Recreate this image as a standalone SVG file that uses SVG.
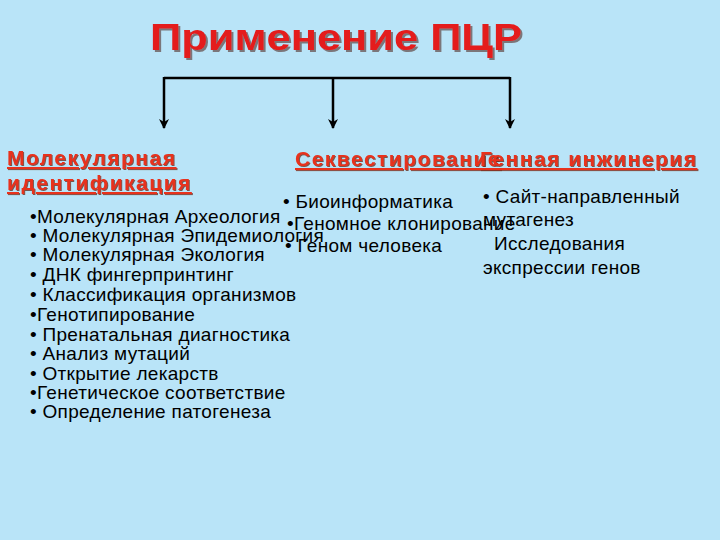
<svg xmlns="http://www.w3.org/2000/svg" width="720" height="540" viewBox="0 0 720 540">
<defs>
<style>
.title{font-family:"Liberation Sans",Arial,sans-serif;font-weight:bold;font-size:36px;fill:#E41A1A}
.head{font-family:"Liberation Sans",Arial,sans-serif;font-weight:bold;font-size:21px;letter-spacing:1.5px;fill:#E8301C;text-decoration:underline}
.body{font-family:"Liberation Sans",Arial,sans-serif;font-size:19px;letter-spacing:0.3px;fill:#000}
.conn{stroke:#000;stroke-width:2.5;fill:none}
</style>
<filter id="tsh" x="-5%" y="-20%" width="110%" height="150%">
<feDropShadow dx="2" dy="2" stdDeviation="0.6" flood-color="#6a5a5a" flood-opacity="0.8"/>
</filter>
<filter id="hsh" x="-5%" y="-20%" width="110%" height="150%">
<feDropShadow dx="1" dy="1" stdDeviation="0.4" flood-color="#6a3020" flood-opacity="0.8"/>
</filter>
<marker id="arr" viewBox="0 0 10 10" refX="9" refY="5" markerWidth="4" markerHeight="4" orient="auto" markerUnits="strokeWidth">
<path d="M0,0 L10,5 L0,10 L3,5 Z" fill="#000"/>
</marker>
</defs>
<rect width="720" height="540" fill="#B9E4F8"/>
<g id="title">
<text class="title" x="150" y="50" textLength="372" lengthAdjust="spacingAndGlyphs" filter="url(#tsh)">Применение ПЦР</text>
</g>
<g id="connectors">
<path class="conn" d="M164,78 H510"/>
<path class="conn" d="M164,77 V128" marker-end="url(#arr)"/>
<path class="conn" d="M333,78 V128" marker-end="url(#arr)"/>
<path class="conn" d="M510,77 V128" marker-end="url(#arr)"/>
</g>
<g id="node-molecular">
<text class="head" x="7" y="165" filter="url(#hsh)">Молекулярная</text>
<text class="head" x="7" y="190" filter="url(#hsh)">идентификация</text>
<text class="body" x="30" y="223">•Молекулярная Археология</text>
<text class="body" x="30" y="242">• Молекулярная Эпидемиология</text>
<text class="body" x="30" y="261">• Молекулярная Экология</text>
<text class="body" x="30" y="281">• ДНК фингерпринтинг</text>
<text class="body" x="30" y="301">• Классификация организмов</text>
<text class="body" x="30" y="321">•Генотипирование</text>
<text class="body" x="30" y="341">• Пренатальная диагностика</text>
<text class="body" x="30" y="360">• Анализ мутаций</text>
<text class="body" x="30" y="380">• Открытие лекарств</text>
<text class="body" x="30" y="399">•Генетическое соответствие</text>
<text class="body" x="30" y="418">• Определение патогенеза</text>
</g>
<g id="node-sequencing">
<text class="head" x="295" y="166" filter="url(#hsh)">Секвестирование</text>
<text class="body" x="283" y="208">• Биоинформатика</text>
<text class="body" x="287" y="230">•Геномное клонирование</text>
<text class="body" x="285" y="252">• Геном человека</text>
</g>
<g id="node-genetic">
<text class="head" x="480" y="166" filter="url(#hsh)">Генная инжинерия</text>
<text class="body" x="483" y="203">• Сайт-направленный</text>
<text class="body" x="483" y="226">мутагенез</text>
<text class="body" x="494" y="250">Исследования</text>
<text class="body" x="483" y="274">экспрессии генов</text>
</g>
</svg>
